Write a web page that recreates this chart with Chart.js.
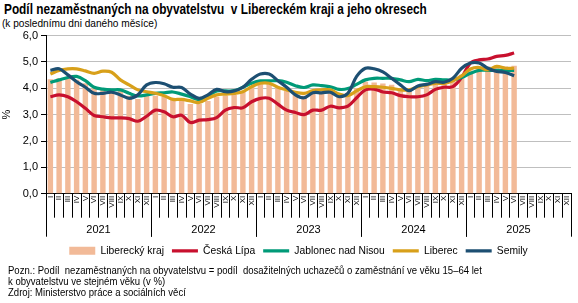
<!DOCTYPE html>
<html lang="cs">
<head>
<meta charset="utf-8">
<script src="https://cdn.jsdelivr.net/npm/chart.js@4.4.1/dist/chart.umd.min.js"></script>
<style>
  body { margin: 0; width: 578px; height: 303px; background: #fff; position: relative; overflow: hidden;
         font-family: "Liberation Sans", Arial, sans-serif; color: #000; }
  #title { position: absolute; left: 4px; top: 1px; font-size: 14px; font-weight: bold; white-space: nowrap;
           transform: scaleX(0.845); transform-origin: 0 0; }
  #subtitle { position: absolute; left: 2px; top: 17px; font-size: 11px; white-space: nowrap;
              transform: scaleX(0.92); transform-origin: 0 0; }
  #wrap { position: absolute; left: 0; top: 26px; width: 578px; height: 240px; }
  #notes { position: absolute; left: 8px; top: 264.5px; font-size: 10px; line-height: 11px; white-space: nowrap;
           transform: scaleX(0.955); transform-origin: 0 0; }
</style>
</head>
<body>
<div id="title">Podíl nezaměstnaných na obyvatelstvu&nbsp; v Libereckém kraji a jeho okresech</div>
<div id="subtitle">(k poslednímu dni daného měsíce)</div>
<div id="wrap"><canvas id="chart"></canvas></div>
<div id="notes">Pozn.: Podíl&nbsp; nezaměstnaných na obyvatelstvu = podíl&nbsp; dosažitelných uchazečů o zaměstnání ve věku 15–64 let<br>k obyvatelstvu ve stejném věku (v %)<br>Zdroj: Ministerstvo práce a sociálních věcí</div>
<script>
// měsíce (římské číslice) a roky
const mesice = ['I', 'II', 'III', 'IV', 'V', 'VI', 'VII', 'VIII', 'IX', 'X', 'XI', 'XII'];
const roky = ['2021', '2022', '2023', '2024', '2025'];

// hodnoty v %, leden 2021 – červen 2025
const liberecky_kraj = [4.34, 4.38, 4.38, 4.32, 4.19, 4.00, 3.96, 3.96, 3.90, 3.72, 3.59, 3.72,
  3.72, 3.68, 3.58, 3.55, 3.40, 3.40, 3.52, 3.68, 3.72, 3.75, 3.87, 4.06,
  4.15, 4.15, 4.00, 3.90, 3.75, 3.72, 3.81, 3.81, 3.81, 3.68, 3.81, 4.00,
  4.25, 4.22, 4.18, 4.13, 4.00, 3.96, 4.06, 4.13, 4.19, 4.19, 4.32, 4.51,
  4.68, 4.76, 4.83, 4.83, 4.83, 4.86];
const ceska_lipa = [3.68, 3.75, 3.68, 3.49, 3.24, 2.97, 2.92, 2.88, 2.88, 2.85, 2.75, 2.94,
  3.17, 3.11, 2.92, 2.98, 2.70, 2.79, 2.81, 2.89, 3.17, 3.27, 3.26, 3.49,
  3.62, 3.62, 3.40, 3.17, 3.08, 3.00, 3.17, 3.17, 3.32, 3.26, 3.32, 3.64,
  3.94, 3.97, 3.86, 3.83, 3.72, 3.68, 3.68, 3.75, 3.96, 4.04, 4.06, 4.41,
  4.96, 5.08, 5.11, 5.21, 5.25, 5.34];
const jablonec = [4.22, 4.32, 4.41, 4.45, 4.29, 4.04, 3.97, 3.94, 3.94, 3.81, 3.71, 3.75,
  3.81, 3.83, 3.86, 3.78, 3.68, 3.57, 3.71, 3.90, 3.90, 3.91, 4.04, 4.19,
  4.28, 4.28, 4.29, 4.23, 4.10, 4.03, 4.13, 4.10, 4.06, 3.96, 3.99, 4.15,
  4.32, 4.38, 4.38, 4.38, 4.32, 4.25, 4.34, 4.29, 4.34, 4.32, 4.32, 4.41,
  4.57, 4.68, 4.68, 4.68, 4.68, 4.68];
const liberec = [4.54, 4.68, 4.74, 4.74, 4.66, 4.57, 4.65, 4.61, 4.32, 4.13, 3.94, 3.87,
  3.81, 3.72, 3.58, 3.58, 3.52, 3.46, 3.62, 3.75, 3.78, 3.81, 3.87, 4.06,
  4.19, 4.19, 4.04, 3.94, 3.85, 3.81, 3.91, 3.94, 3.94, 3.78, 3.72, 3.90,
  4.06, 4.06, 4.04, 4.00, 3.94, 3.94, 4.06, 4.13, 4.19, 4.19, 4.29, 4.47,
  4.73, 4.79, 4.70, 4.83, 4.76, 4.76];
const semily = [4.68, 4.74, 4.51, 4.25, 4.04, 3.81, 3.81, 3.85, 3.75, 3.62, 3.75, 4.13,
  4.22, 4.17, 4.04, 4.03, 3.78, 3.62, 3.75, 3.96, 3.87, 3.90, 4.04, 4.34,
  4.54, 4.54, 4.29, 4.04, 3.75, 3.64, 3.83, 3.83, 3.85, 3.68, 3.81, 4.45,
  4.76, 4.74, 4.62, 4.38, 4.13, 3.91, 4.09, 4.15, 4.25, 4.23, 4.38, 4.76,
  4.96, 4.96, 4.76, 4.64, 4.60, 4.48];

const yTicks = [0, 1, 2, 3, 4, 5, 6];

const popisky = [];
roky.forEach(() => mesice.forEach(m => popisky.push(m)));

const FONT = '"Liberation Sans", Arial, sans-serif';
Chart.defaults.font.family = FONT;
Chart.defaults.color = '#000';

// svislé čáry mezi roky a popisky roků pod osou
const rokyPlugin = {
  id: 'roky',
  afterLayout(chart) {
    // legenda je v originále trochu posunutá doprava
    chart.legend.left += 13;
    chart.legend.right += 13;
  },
  afterDraw(chart) {
    const xs = chart.scales.x;
    const ctx = chart.ctx;
    const n = mesice.length;
    const hranice = i => {
      if (i <= 0) return xs.left;
      if (i >= popisky.length) return xs.right;
      return (xs.getPixelForValue(i - 1) + xs.getPixelForValue(i)) / 2;
    };
    ctx.save();
    ctx.strokeStyle = '#000';
    ctx.lineWidth = 1;
    ctx.fillStyle = '#000';
    ctx.font = '11px ' + FONT;
    ctx.textAlign = 'center';
    ctx.textBaseline = 'middle';
    roky.forEach((r, k) => {
      const a = hranice(k * n), b = hranice((k + 1) * n);
      [a, b].forEach(px => {
        ctx.beginPath();
        ctx.moveTo(Math.round(px) + 0.5, xs.top);
        ctx.lineTo(Math.round(px) + 0.5, xs.top + 43);
        ctx.stroke();
      });
      ctx.fillText(r, (a + b) / 2, xs.top + 36);
    });
    ctx.restore();
  }
};

const lineDs = (label, data, color, order) => ({
  type: 'line',
  label: label,
  data: data,
  borderColor: color,
  backgroundColor: color,
  borderWidth: 3.2,
  pointRadius: 0,
  pointStyle: 'line',
  tension: 0.35,
  order: order
});

new Chart(document.getElementById('chart'), {
  type: 'bar',
  data: {
    labels: popisky,
    datasets: [
      {
        label: 'Liberecký kraj',
        data: liberecky_kraj,
        backgroundColor: '#F2BA98',
        borderWidth: 0,
        barPercentage: 0.62,
        categoryPercentage: 1,
        pointStyle: 'rect',
        order: 10
      },
      lineDs('Česká Lípa', ceska_lipa, '#C8102E', 4),
      lineDs('Jablonec nad Nisou', jablonec, '#009A78', 3),
      lineDs('Liberec', liberec, '#D8A01A', 2),
      lineDs('Semily', semily, '#1D4F72', 1)
    ]
  },
  options: {
    responsive: true,
    maintainAspectRatio: false,
    animation: false,
    layout: { padding: { left: 0, right: 7, top: 7, bottom: 0 } },
    plugins: {
      legend: {
        position: 'bottom',
        labels: {
          usePointStyle: true,
          pointStyleWidth: 26,
          boxHeight: 8,
          padding: 8,
          font: { size: 10.3 },
          sort: (a, b) => a.datasetIndex - b.datasetIndex
        }
      },
      tooltip: { enabled: false }
    },
    scales: {
      x: {
        offset: true,
        grid: { offset: true, drawOnChartArea: false, tickLength: 24, color: '#000' },
        border: { color: '#000' },
        ticks: { autoSkip: false, minRotation: 90, maxRotation: 90, padding: -22, font: { size: 8 } },
        afterFit: s => { s.height = 44; }
      },
      y: {
        min: 0,
        max: 6,
        afterBuildTicks: s => { s.ticks = yTicks.map(v => ({ value: v })); },
        grid: { color: '#BFBFBF', tickColor: '#000', tickLength: 5 },
        border: { color: '#000' },
        ticks: { padding: 3, font: { size: 11 }, callback: v => v.toFixed(1).replace('.', ',') },
        title: { display: true, text: '%', font: { size: 11 }, padding: 0 },
        afterFit: s => { s.width = 46; }
      }
    }
  },
  plugins: [rokyPlugin]
});
</script>
</body>
</html>
